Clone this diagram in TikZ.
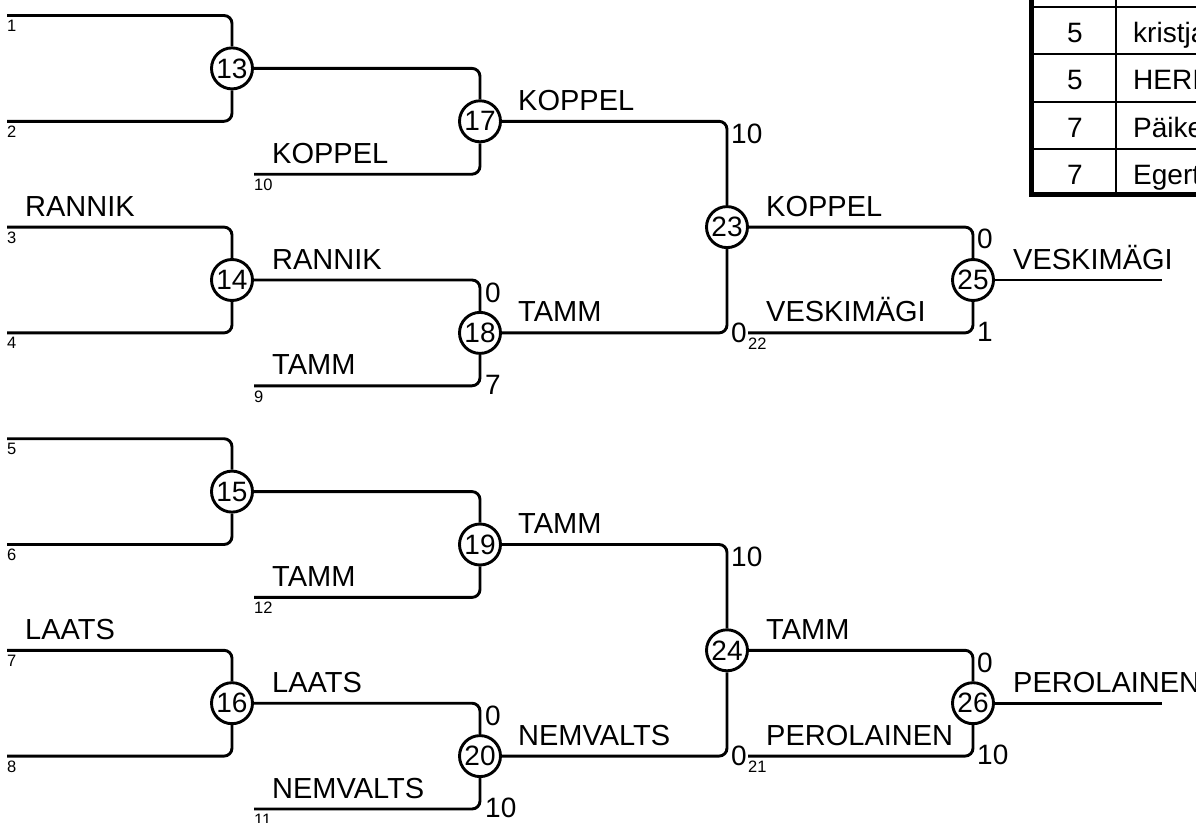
\documentclass[tikz,border=0pt]{standalone}
\usepackage{fontspec}
\setmainfont{Liberation Sans}
\tikzset{
  ln/.style={line width=2.9bp, rounded corners=8bp},
  mt/.style={circle, draw, line width=2.9bp, minimum size=41bp, inner sep=0pt, fill=white, font=\fontsize{28bp}{29bp}\selectfont},
  nm/.style={anchor=base west, inner sep=0pt, font=\fontsize{29bp}{30bp}\selectfont},
  sm/.style={anchor=north west, inner sep=0pt, font=\fontsize{16.5bp}{17bp}\selectfont},
  sct/.style={anchor=north west, inner sep=0pt, font=\fontsize{28bp}{29bp}\selectfont},
  scb/.style={anchor=west, inner sep=0pt, font=\fontsize{28bp}{29bp}\selectfont},
  tb/.style={inner sep=0pt, anchor=base, font=\fontsize{28bp}{29bp}\selectfont},
  tn/.style={inner sep=0pt, anchor=base west, font=\fontsize{28bp}{29bp}\selectfont},
}
\begin{document}
\begin{tikzpicture}[x=1bp,y=-1bp]
\useasboundingbox (0,0) rectangle (1196,823);
\clip (0,0) rectangle (1196,823);
% ---- table (cut by the picture edge)
\draw[line width=2bp] (1031,7) -- (1210,7) (1031,54) -- (1210,54) (1031,102) -- (1210,102) (1031,149) -- (1210,149);
\draw[line width=2bp] (1116,-10) -- (1116,195);
\draw[line width=5.5bp] (1031.5,-10) -- (1031.5,194.5) -- (1210,194.5);
\node[tb] (t1a) at (1075,42) {5};
\node[tb] (t2a) at (1075,89.5) {5};
\node[tb] (t3a) at (1075,137) {7};
\node[tb] (t4a) at (1075,184.5) {7};
\node[tn] (t1b) at (1133,42) {kristja};
\node[tn] (t2b) at (1133,89.5) {HERI};
\node[tn] (t3b) at (1133,137) {Päike};
\node[tn] (t4b) at (1133,184.5) {Egert};
% ---- start points
\coordinate (s1) at (7,15.5);
\coordinate (s2) at (7,121.3);
\coordinate (s3) at (7,227.1);
\coordinate (s4) at (7,332.9);
\coordinate (s5) at (7,438.7);
\coordinate (s6) at (7,544.5);
\coordinate (s7) at (7,650.3);
\coordinate (s8) at (7,756.1);
\coordinate (s10) at (254,174.2);
\coordinate (s9) at (254,385.8);
\coordinate (s12) at (254,597.4);
\coordinate (s11) at (254,809);
\coordinate (s22) at (748,332.9);
\coordinate (s21) at (748,756.1);
\coordinate (e25) at (1162,280);
\coordinate (e26) at (1162,703.2);
% ---- matches
\node[mt] (m13) at (232,68.4) {13};
\node[mt] (m14) at (232,280) {14};
\node[mt] (m15) at (232,491.6) {15};
\node[mt] (m16) at (232,703.2) {16};
\node[mt] (m17) at (480,121.3) {17};
\node[mt] (m18) at (480,332.9) {18};
\node[mt] (m19) at (480,544.5) {19};
\node[mt] (m20) at (480,756.1) {20};
\node[mt] (m23) at (727,227.1) {23};
\node[mt] (m24) at (727,650.3) {24};
\node[mt] (m25) at (973,280) {25};
\node[mt] (m26) at (973,703.2) {26};
% ---- connectors
\draw[ln] (s1) -| (m13);
\draw[ln] (s2) -| (m13);
\draw[ln] (s3) -| (m14);
\draw[ln] (s4) -| (m14);
\draw[ln] (s5) -| (m15);
\draw[ln] (s6) -| (m15);
\draw[ln] (s7) -| (m16);
\draw[ln] (s8) -| (m16);
\draw[ln] (m13) -| (m17);
\draw[ln] (s10) -| (m17);
\draw[ln] (m14) -| (m18);
\draw[ln] (s9) -| (m18);
\draw[ln] (m15) -| (m19);
\draw[ln] (s12) -| (m19);
\draw[ln] (m16) -| (m20);
\draw[ln] (s11) -| (m20);
\draw[ln] (m17) -| (m23);
\draw[ln] (m18) -| (m23);
\draw[ln] (m19) -| (m24);
\draw[ln] (m20) -| (m24);
\draw[ln] (m23) -| (m25);
\draw[ln] (s22) -| (m25);
\draw[ln] (m24) -| (m26);
\draw[ln] (s21) -| (m26);
\draw[ln] (m25) -- (e25);
\draw[ln] (m26) -- (e26);
% ---- line numbers
\node[sm] (n1) at (7,20) {1};
\node[sm] (n2) at (7,125.8) {2};
\node[sm] (n3) at (7,231.6) {3};
\node[sm] (n4) at (7,337.4) {4};
\node[sm] (n5) at (7,443.2) {5};
\node[sm] (n6) at (7,549) {6};
\node[sm] (n7) at (7,654.8) {7};
\node[sm] (n8) at (7,760.6) {8};
\node[sm] (n10) at (254,178.7) {10};
\node[sm] (n9) at (254,390.3) {9};
\node[sm] (n12) at (254,601.9) {12};
\node[sm] (n11) at (254,813.5) {11};
\node[sm] (n22) at (748,337.4) {22};
\node[sm] (n21) at (748,760.6) {21};
% ---- names
\node[nm] (a3) at (25,216.1) {RANNIK};
\node[nm] (a7) at (25,639.3) {LAATS};
\node[nm] (a10) at (272,163.2) {KOPPEL};
\node[nm] (a9) at (272,374.8) {TAMM};
\node[nm] (a12) at (272,586.4) {TAMM};
\node[nm] (a11) at (272,798) {NEMVALTS};
\node[nm] (w14) at (272,269) {RANNIK};
\node[nm] (w16) at (272,692.2) {LAATS};
\node[nm] (w17) at (518,110.3) {KOPPEL};
\node[nm] (w18) at (518,321.9) {TAMM};
\node[nm] (w19) at (518,533.5) {TAMM};
\node[nm] (w20) at (518,745.1) {NEMVALTS};
\node[nm] (w23) at (766,216.1) {KOPPEL};
\node[nm] (a22) at (766,321.9) {VESKIMÄGI};
\node[nm] (w24) at (766,639.3) {TAMM};
\node[nm] (a21) at (766,745.1) {PEROLAINEN};
\node[nm] (w25) at (1013,269) {VESKIMÄGI};
\node[nm] (w26) at (1013,692.2) {PEROLAINEN};
% ---- scores
\node[sct] (c18a) at (485,283) {0};
\node[scb] (c18b) at (485,384.8) {7};
\node[sct] (c20a) at (485,706.2) {0};
\node[scb] (c20b) at (485,808) {10};
\node[sct] (c23a) at (731,123.3) {10};
\node[scb] (c23b) at (731,332.4) {0};
\node[sct] (c24a) at (731,546.5) {10};
\node[scb] (c24b) at (731,755.6) {0};
\node[sct] (c25a) at (977,229.1) {0};
\node[scb] (c25b) at (977,331.4) {1};
\node[sct] (c26a) at (977,652.3) {0};
\node[scb] (c26b) at (977,754.6) {10};
\end{tikzpicture}
\end{document}
